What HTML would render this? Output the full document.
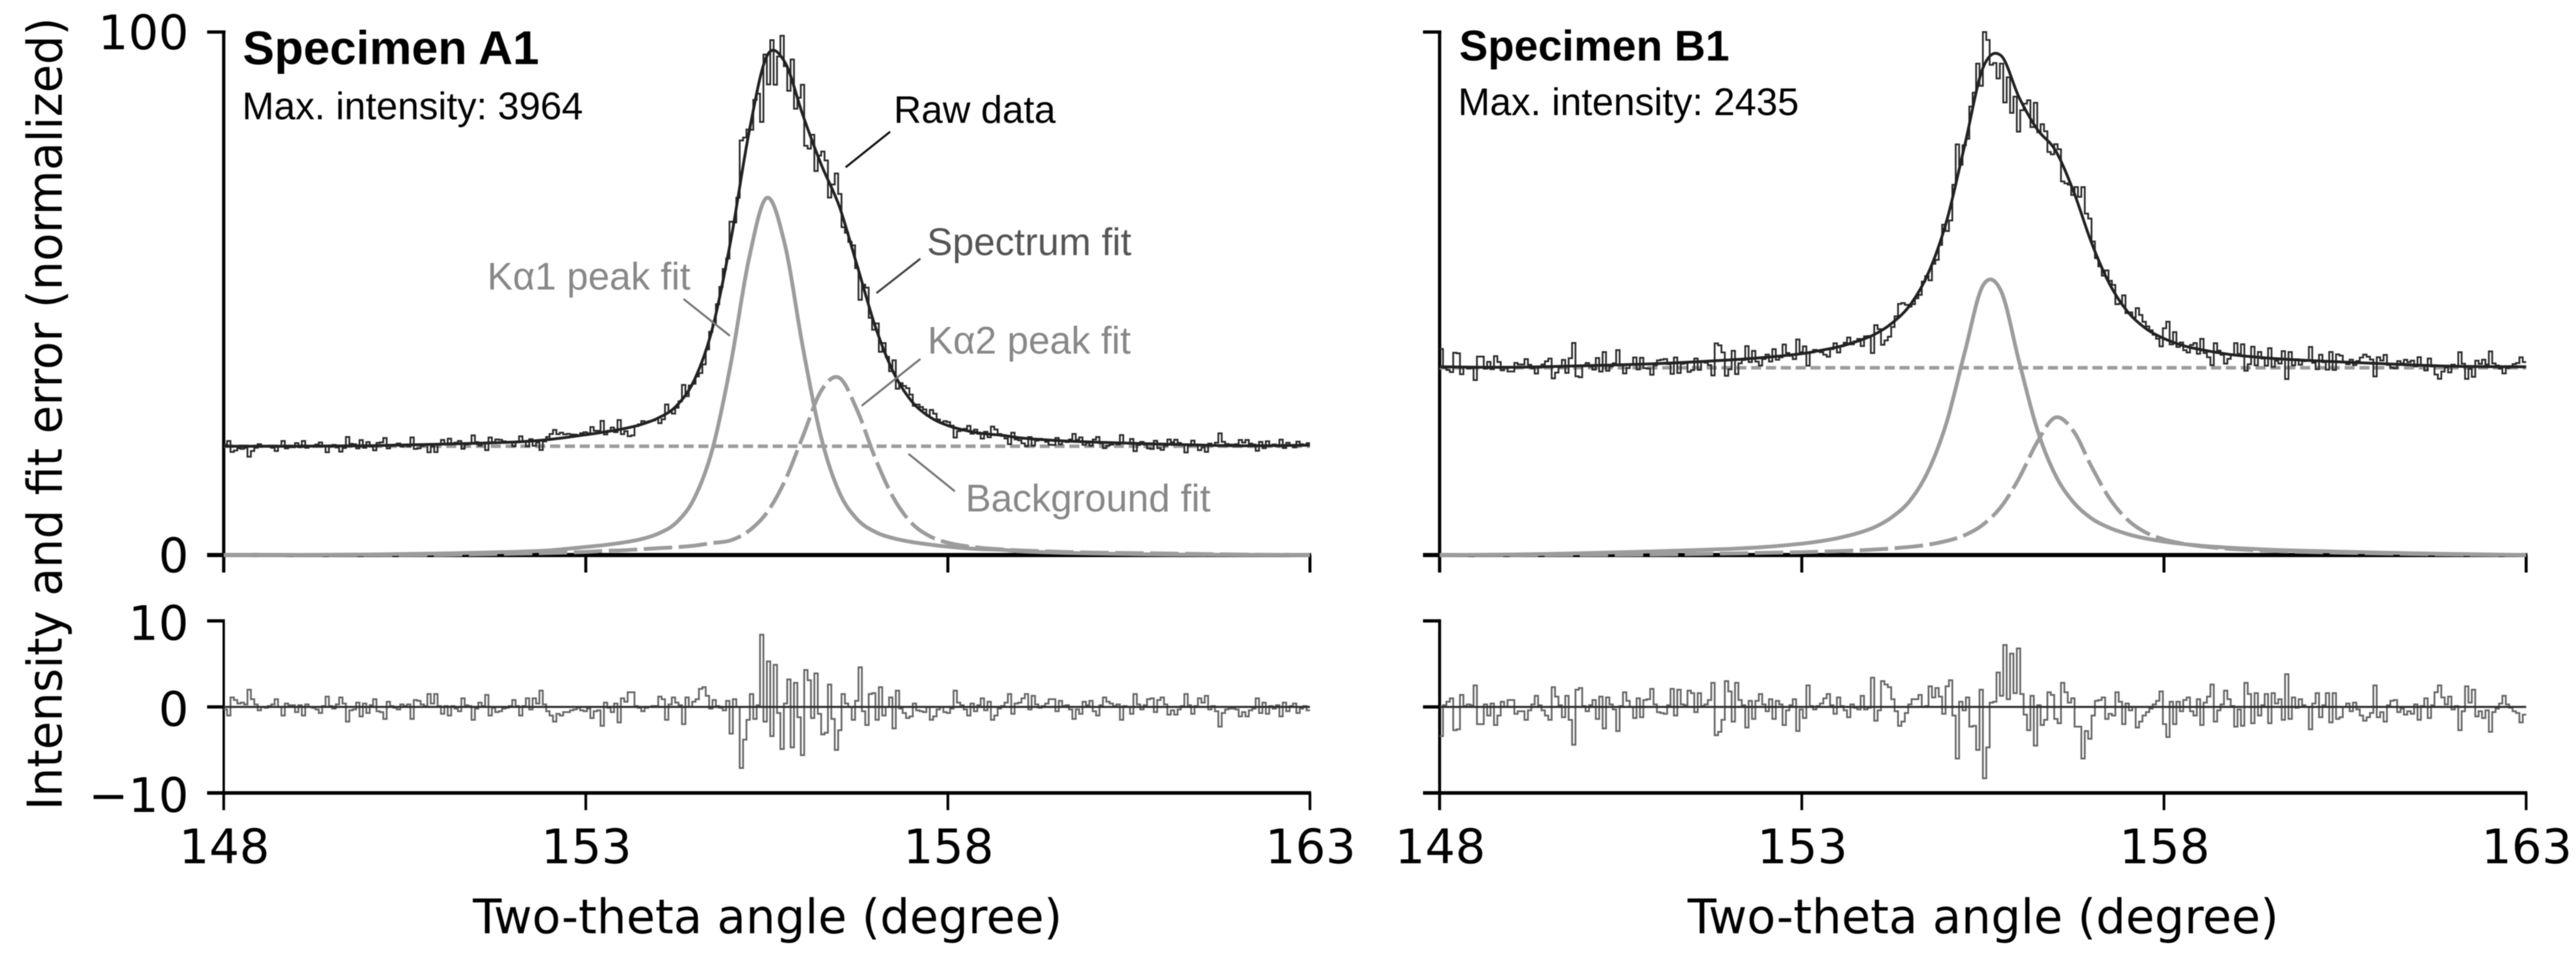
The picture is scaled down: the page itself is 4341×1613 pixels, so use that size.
<!DOCTYPE html>
<html lang="en">
<head>
<meta charset="utf-8">
<title>Specimen A1 and B1 spectra</title>
<style>
html,body{margin:0;padding:0;background:#fff;}
svg{display:block;filter:blur(0.8px);}
.tick{font-family:"DejaVu Sans",sans-serif;font-size:80px;fill:#000;}
.title{font-family:"DejaVu Sans",sans-serif;fill:#000;}
.ann{font-family:"Liberation Sans",sans-serif;font-size:64.6px;}
</style>
</head>
<body>
<svg id="chart" xmlns="http://www.w3.org/2000/svg" width="4341" height="1613" viewBox="0 0 4341 1613">
  <rect x="0" y="0" width="4341" height="1613" fill="#fff"/>
  <g id="panelA"></g>
  <g id="panelB"></g>

  <text class="title" font-size="81.5" transform="translate(104,1365.5) rotate(-90)" textLength="1336" lengthAdjust="spacingAndGlyphs">Intensity and fit error (normalized)</text>
  <text class="title" font-size="80" x="797" y="1573" textLength="993" lengthAdjust="spacingAndGlyphs">Two-theta angle (degree)</text>
  <text class="title" font-size="80" x="2844" y="1573" textLength="996" lengthAdjust="spacingAndGlyphs">Two-theta angle (degree)</text>

  <text font-family="'Liberation Sans',sans-serif" font-weight="700" font-size="80" x="409" y="108" fill="#000">Specimen A1</text>
  <text class="ann" x="408" y="201" fill="#000">Max. intensity: 3964</text>
  <text font-family="'Liberation Sans',sans-serif" font-weight="700" font-size="72.5" x="2459" y="102" fill="#000">Specimen B1</text>
  <text class="ann" x="2457" y="194" fill="#000">Max. intensity: 2435</text>

  <text class="ann" x="1506" y="207" fill="#000">Raw data</text>
  <line x1="1500" y1="222" x2="1425" y2="282" stroke="#111" stroke-width="3.5"/>
  <text class="ann" x="1562" y="430" fill="#555">Spectrum fit</text>
  <line x1="1551" y1="436" x2="1477" y2="494" stroke="#444" stroke-width="3.5"/>
  <text class="ann" x="1563" y="596" fill="#888">Kα2 peak fit</text>
  <line x1="1551" y1="605" x2="1452" y2="684" stroke="#777" stroke-width="3.5"/>
  <text class="ann" x="821" y="488" fill="#888">Kα1 peak fit</text>
  <line x1="1152" y1="504" x2="1230" y2="566" stroke="#777" stroke-width="3.5"/>
  <text class="ann" x="1627" y="862" fill="#888">Background fit</text>
  <line x1="1531" y1="765" x2="1609" y2="828" stroke="#777" stroke-width="3.5"/>
</svg>

<script>
// ---- shared axis data ----
const xTickValues = [148, 153, 158, 163];
const xTickLabels = ["148", "153", "158", "163"];
const intensityTickValues = [0, 100];
const intensityTickLabels = ["0", "100"];
const errorTickValues = [-10, 0, 10];
const errorTickLabels = ["\u221210", "0", "10"];

const fitAngles = [148,149,150,151,152,152.5,153,153.25,153.5,153.75,154,154.25,154.5,154.75,155,155.25,155.5,155.75,156,156.25,156.5,156.75,157,157.25,157.5,157.75,158,158.25,158.5,158.75,159,159.5,160,161,162,163];
const backgroundAngles = [148, 163];

// ---- Specimen A1 ----
const a1Background = [20.8, 20.8];
const a1Ka1 = [0,0.02,0.1,0.3,0.6,0.9,1.55,1.89,2.36,3.0,4.1,6.2,10.9,20.3,36.4,56.4,68.3,59.3,39.5,22.5,12.0,6.8,4.4,3.2,2.5,2.0,1.6,1.3,1.1,1.0,0.7,0.45,0.3,0.1,0.03,0];
const a1Ka2 = [0,0,0.02,0.05,0.25,0.4,0.6,0.8,0.9,1.1,1.3,1.5,1.8,2.3,2.8,4.6,8.1,14.2,22.8,31.4,33.9,27.6,18.4,10.9,6.1,3.6,2.35,1.7,1.33,1.08,0.89,0.63,0.47,0.3,0.1,0];
const a1Spectrum = [20.8,20.8,20.9,21.2,21.6,22.1,23.0,23.5,24.1,24.9,26.2,28.5,33.5,43.4,60.0,80.5,95.4,94.2,84.0,74.7,66.7,55.2,43.6,34.9,29.4,26.4,24.75,23.8,23.2,22.9,22.4,21.9,21.6,21.2,20.9,21.0];
// Fit error per detector channel (error = fit - raw)
const a1Error = [
-0.3,-1.0,1.1,0.8,0.4,0.5,0.3,2.0,0.9,0.3,
-0.4,0.0,-0.1,0.1,0.3,0.9,0.0,-1.0,0.4,0.2,
0.2,-0.6,0.2,-1.0,0.3,0.0,-0.1,-0.3,-0.7,0.1,
1.2,0.1,-0.2,0.3,1.1,0.4,-1.7,-0.4,-0.3,0.5,
-1.1,0.4,-0.7,0.2,0.9,-0.5,-0.6,-1.4,0.6,0.1,
-0.1,-0.3,0.3,0.1,0.3,-1.4,0.8,0.7,0.3,0.1,
1.5,0.4,1.5,0.1,-0.8,0.1,-1.0,0.1,-0.2,-0.5,
1.0,0.2,0.1,-1.5,-0.2,0.5,0.1,1.4,-1.0,-0.1,
-0.6,-0.5,-0.2,-0.1,0.1,0.8,0.1,-1.0,0.1,1.0,
-0.3,1.0,0.4,1.9,0.3,-0.5,-1.0,-1.7,-0.8,-1.0,
-0.6,-0.6,-0.4,-0.3,-0.1,-0.4,-0.5,-0.2,-1.3,-0.5,
-0.4,-2.2,0.5,-0.1,-0.6,0.4,-1.8,1.0,0.6,1.7,
1.7,0.1,-0.1,-0.5,-0.1,0.0,0.1,0.1,1.2,0.9,
-1.5,0.3,1.1,0.5,0.2,-2.0,1.1,0.0,0.6,0.9,
2.1,2.3,1.3,-0.2,0.8,0.1,-0.1,-0.4,0.7,-3.1,
0.9,0.0,-7.1,-3.8,-1.5,1.5,-1.4,0.2,8.4,-1.7,
5.3,-3.4,4.9,-0.7,-4.9,0.4,3.2,-4.7,2.8,-1.2,
-5.6,4.3,3.1,-1.3,3.9,-0.8,-3.2,-3.0,2.6,-1.4,
-5.0,-2.7,1.5,0.4,0.0,-1.5,0.7,4.6,-0.5,-2.1,
1.5,1.6,-1.5,2.3,-1.0,0.0,1.1,-2.5,1.9,-0.2,
-0.7,-1.3,-1.1,0.4,-0.4,-0.5,-0.6,0.0,-1.5,-1.1,
-0.3,0.0,-0.6,-0.7,-0.2,
1.9,0.5,0.2,-0.3,-1.0,0.4,-0.5,0.2,1.0,-0.4,
0.6,-1.5,-1.0,-0.2,0.1,0.5,1.5,-0.8,0.4,0.5,
1.0,1.5,-0.3,1.3,0.3,-0.1,0.1,0.4,0.9,0.9,
-0.5,0.7,0.1,0.2,-0.3,-1.4,-0.3,-0.8,0.6,0.2,
0.7,-0.5,-1.0,0.2,1.1,0.6,0.4,0.1,0.3,-1.5,
0.1,0.0,-0.8,1.5,0.3,-0.3,0.2,0.9,1.0,-0.6,
0.8,1.1,0.3,-0.9,-0.4,-0.9,-0.3,0.1,1.5,0.2,
-0.8,0.1,1.0,0.5,1.3,-0.3,0.1,-0.5,-2.3,-0.7,
-0.3,-0.2,-0.2,-0.3,-1.1,-0.6,-1.1,-0.4,-0.2,1.0,
-0.7,0.5,-0.8,0.1,-0.2,0.2,-1.1,0.5,-0.5,0.1,
0.4,-0.7,-0.2,0.1,-0.4
];

// ---- Specimen B1 ----
const b1Background = [35.8, 35.8];
const b1Ka1 = [0,0.1,0.35,0.72,1.17,1.55,2.18,2.63,3.25,4.1,5.3,7.3,10.5,16.2,25.4,38.8,51.5,50.5,37.0,24.0,15.3,10.1,7.0,5.2,4.0,3.16,2.58,2.13,1.79,1.53,1.32,1.0,0.79,0.45,0.2,0];
const b1Ka2 = [0,0,0.05,0.1,0.3,0.42,0.55,0.64,0.74,0.87,1.05,1.27,1.57,2.0,2.7,3.8,5.8,9.2,14.7,21.6,26.3,23.7,16.9,10.8,6.7,4.3,3.0,2.2,1.7,1.36,1.1,0.78,0.58,0.3,0.1,0];
const b1Spectrum = [36.0,35.9,36.2,36.6,37.3,37.8,38.5,39.1,39.8,40.8,42.15,44.4,47.9,54.0,63.9,78.4,93.1,95.5,87.5,81.4,77.4,69.6,59.7,51.8,46.5,43.3,41.4,40.1,39.3,38.7,38.2,37.6,37.2,36.6,36.1,36.0];
const b1Error = [
-3.4,0.2,0.6,1.0,-2.7,-2.6,1.4,0.1,0.3,0.2,
2.5,-2.0,-2.0,0.3,-1.0,0.4,-2.1,-1.0,0.6,0.0,
0.8,0.8,-0.8,-0.5,-0.5,-1.5,-0.4,0.3,1.3,0.2,
-0.4,-1.0,-1.5,2.3,1.2,0.2,-1.2,1.3,-1.5,-4.4,
2.0,2.2,0.1,-0.5,0.2,0.8,-1.4,1.2,-2.5,1.1,
0.3,-0.3,-2.8,0.1,1.7,0.7,0.0,-1.3,1.0,-1.2,
0.8,0.9,2.1,0.3,-0.6,-0.7,-0.8,0.2,2.1,-1.0,
2.0,0.3,0.2,1.9,1.6,-0.6,1.6,0.1,0.3,0.8,
2.8,-3.3,-2.9,-1.5,3.0,1.8,-1.7,2.8,0.8,0.2,
-2.4,0.7,-1.4,0.7,1.5,0.3,-0.5,0.9,-1.4,0.7,
0.3,-2.1,-0.4,0.2,0.9,-2.8,-0.3,-1.3,2.5,0.1,
-0.3,0.1,0.4,1.0,1.5,0.2,-0.8,1.1,0.1,-0.4,
-1.2,0.3,-0.1,-0.3,1.3,-0.3,-0.1,3.4,-1.6,-0.4,
3.0,2.6,2.3,0.9,-0.5,-2.2,-1.7,-0.7,0.3,0.9,
0.9,1.4,0.0,0.1,2.4,1.1,2.2,1.2,-0.8,2.4,
3.1,-1.0,-6.0,0.6,-0.4,1.1,-2.3,-2.2,-5.0,2.0,
-8.3,-4.7,0.5,0.6,4.0,1.3,7.2,0.9,6.2,1.6,
6.8,1.5,-0.9,-2.7,1.3,-4.5,0.2,-2.1,-1.5,1.7,
1.4,-1.4,-1.9,2.8,1.7,0.5,1.0,-2.3,-2.3,-6.0,
-2.8,-3.7,-1.0,0.7,0.8,1.1,-1.4,-0.8,-1.0,1.7,
0.6,-2.0,0.4,-0.4,0.0,-2.4,-1.7,
-1.0,-0.6,-0.2,0.3,0.7,1.8,-2.0,-3.5,0.6,-2.0,
0.6,-0.5,0.8,1.1,-0.5,-1.0,0.9,-2.1,0.5,1.2,
2.6,-1.7,-0.4,0.3,1.9,0.9,0.1,-2.3,-0.3,-2.2,
2.8,1.5,-1.9,1.6,-1.0,0.2,1.5,-1.9,1.6,0.4,
0.9,-1.5,3.8,-1.4,1.1,-0.1,0.9,0.2,0.0,-2.6,
0.4,1.6,-1.2,0.2,1.6,-1.8,1.6,-1.4,-1.2,0.0,
0.4,-0.5,0.5,-0.3,-1.0,-1.6,-1.2,-0.7,2.5,-1.2,
-0.6,-1.7,0.2,0.7,0.8,-0.6,-0.2,-0.9,-0.5,-0.8,
0.3,-1.5,0.1,1.0,-1.3,0.2,1.7,2.5,1.1,0.3,
1.2,-0.3,0.1,-2.7,-0.5,2.4,0.5,2.0,-1.1,-0.5,
-1.3,-0.4,-2.9,-0.6,-0.2,0.4,1.3,0.3,-0.1,-0.5,
-0.7,-1.8,-0.9
];

// ---- axis functions ----
const SVG_NS = "http://www.w3.org/2000/svg";
function intensityY(v) { return 935.5 - v * 8.815; }
function errorY(v) { return 1191.5 - v * 14.5; }
function angleScale(px148, px163) {
  return function (a) { return px148 + (a - 148) * (px163 - px148) / 15; };
}
function smoothPath(angles, values, x, y) {
  const pts = angles.map(function (a, i) { return [x(a), y(values[i])]; });
  let d = "M" + pts[0][0].toFixed(1) + " " + pts[0][1].toFixed(1);
  for (let i = 0; i < pts.length - 1; i++) {
    const p0 = pts[i - 1] || pts[i], p1 = pts[i], p2 = pts[i + 1], p3 = pts[i + 2] || p2;
    d += "C" + (p1[0] + (p2[0] - p0[0]) / 6).toFixed(1) + " " + (p1[1] + (p2[1] - p0[1]) / 6).toFixed(1) + " " +
         (p2[0] - (p3[0] - p1[0]) / 6).toFixed(1) + " " + (p2[1] - (p3[1] - p1[1]) / 6).toFixed(1) + " " +
         p2[0].toFixed(1) + " " + p2[1].toFixed(1);
  }
  return d;
}
function stepPath(values, x, y) {
  const n = values.length;
  let d = "";
  values.forEach(function (v, i) {
    const x0 = x(148 + 15 * i / n), x1 = x(148 + 15 * (i + 1) / n), yy = y(v);
    d += (i === 0 ? "M" + x0.toFixed(1) + " " + yy.toFixed(1) : "V" + yy.toFixed(1)) + "H" + x1.toFixed(1);
  });
  return d;
}
function fitAt(angle, values) {
  for (let i = 0; i < fitAngles.length - 1; i++) {
    if (angle <= fitAngles[i + 1]) {
      const t = (angle - fitAngles[i]) / (fitAngles[i + 1] - fitAngles[i]);
      return values[i] + t * (values[i + 1] - values[i]);
    }
  }
  return values[values.length - 1];
}
function addPath(parent, d, stroke, width, dash) {
  const el = document.createElementNS(SVG_NS, "path");
  el.setAttribute("d", d);
  el.setAttribute("fill", "none");
  el.setAttribute("stroke", stroke);
  el.setAttribute("stroke-width", width);
  if (dash) el.setAttribute("stroke-dasharray", dash);
  parent.appendChild(el);
  return el;
}
function addLine(parent, x1, y1, x2, y2, width) {
  const el = document.createElementNS(SVG_NS, "line");
  el.setAttribute("x1", x1);
  el.setAttribute("y1", y1);
  el.setAttribute("x2", x2);
  el.setAttribute("y2", y2);
  el.setAttribute("stroke", "#000");
  el.setAttribute("stroke-width", width);
  parent.appendChild(el);
  return el;
}
function addTick(parent, x, y, label, anchor) {
  const el = document.createElementNS(SVG_NS, "text");
  el.setAttribute("x", x);
  el.setAttribute("y", y);
  el.setAttribute("class", "tick");
  el.setAttribute("text-anchor", anchor);
  el.textContent = label;
  parent.appendChild(el);
  return el;
}

function drawPanel(gid, key, px148, px163, background, ka1, ka2, spectrum, errors, showYLabels, lowerSpineWidth) {
  const g = document.getElementById(gid);
  const x = angleScale(px148, px163);
  const tickLeft = px148 - 28;
  let el;

  // raw data is the fit minus the plotted fit error
  const n = errors.length;
  const raw = errors.map(function (e, i) {
    const centre = 148 + 15 * (i + 0.5) / n;
    return Math.min(100, fitAt(centre, spectrum) - e);
  });

  // upper axes
  el = addLine(g, tickLeft, intensityY(100), px148 + 3, intensityY(100), 5.5);
  
  
  el = addLine(g, px148, intensityY(100) - 2.5, px148, 965, 5.5);
  
  
  el = addLine(g, tickLeft, intensityY(0), px163 + 2, intensityY(0), 7);
  
  
  xTickValues.forEach(function (t, i) {
    const tick = addLine(g, x(t), intensityY(0), x(t), 965, 5);
    
    
  });

  // upper series
  el = addPath(g, smoothPath(backgroundAngles, background, x, intensityY), "#9c9c9c", 6, "17 8");
  
  
  el = addPath(g, smoothPath(fitAngles, ka2, x, intensityY), "#9c9c9c", 6.5, "48 11");
  
  
  el = addPath(g, smoothPath(fitAngles, ka1, x, intensityY), "#9c9c9c", 6.5);
  
  
  el = addPath(g, stepPath(raw, x, intensityY), "#2b2b2b", 3);
  
  
  el = addPath(g, smoothPath(fitAngles, spectrum, x, intensityY), "#222", 4.8);
  
  

  // lower axes
  el = addLine(g, tickLeft, errorY(10), px148 + 2, errorY(10), 5.5);
  
  
  el = addLine(g, tickLeft, errorY(0), px148, errorY(0), 5.5);
  
  
  el = addLine(g, px148, errorY(10) - 2.5, px148, 1365.5, lowerSpineWidth);
  
  
  el = addLine(g, tickLeft, errorY(-10), px163 + 2, errorY(-10), 6);
  
  
  xTickValues.forEach(function (t, i) {
    const tick = addLine(g, x(t), errorY(-10), x(t), 1365.5, 4.5);
    
    
    const label = addTick(g, x(t) + 1, 1455, xTickLabels[i], "middle");
    
    
  });

  // lower series
  el = addPath(g, stepPath(errors, x, errorY), "#666", 3);
  
  
  el = addLine(g, px148, errorY(0), px163, errorY(0), 3.6);
  el.setAttribute("stroke", "#2e2e2e");
  
  

  if (showYLabels) {
    intensityTickValues.forEach(function (t, i) {
      const label = addTick(g, 318, intensityY(t) + 29, intensityTickLabels[i], "end");
      
      
    });
    errorTickValues.forEach(function (t, i) {
      const label = addTick(g, 318, errorY(t) + 32, errorTickLabels[i], "end");
      
      
    });
  }
}

drawPanel("panelA", "a1", 377, 2207.5, a1Background, a1Ka1, a1Ka2, a1Spectrum, a1Error, true, 4);
drawPanel("panelB", "b1", 2426, 4257, b1Background, b1Ka1, b1Ka2, b1Spectrum, b1Error, false, 5);
</script>
</body>
</html>
